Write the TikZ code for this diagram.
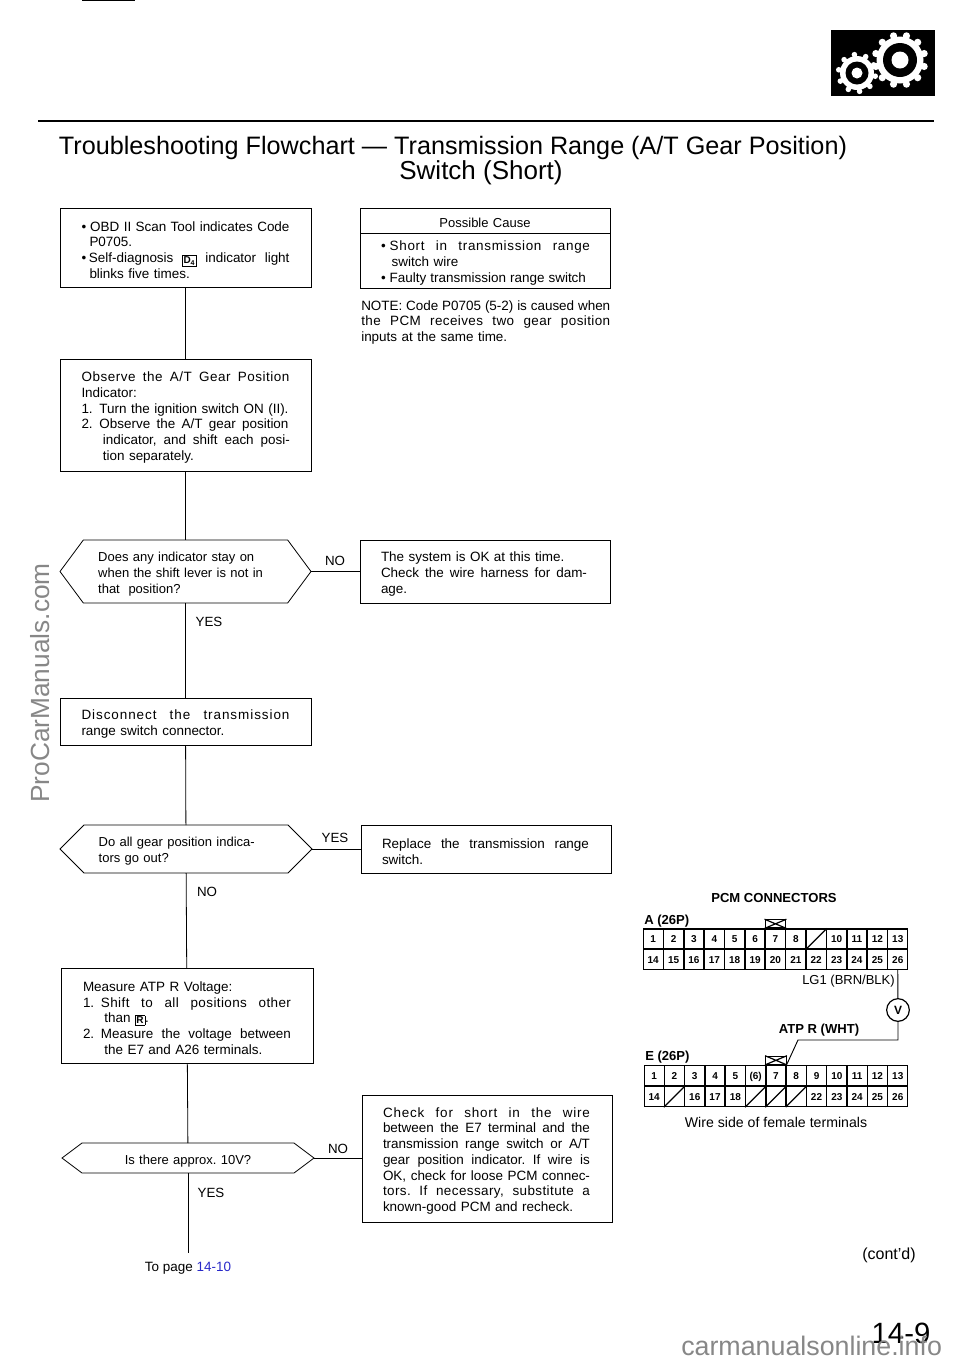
\documentclass[tikz,border=0pt]{standalone}
\usepackage{fontspec}
\setmainfont{Liberation Sans}
\usetikzlibrary{positioning}
\definecolor{markgray}{RGB}{135,135,135}
\definecolor{pagelink}{RGB}{40,40,200}
\newcommand{\jline}[2]{\makebox[\dimexpr#1pt*3/4\relax][s]{\spaceskip=.278em plus 1fil minus .1em\relax #2}}
\newcommand{\spaced}[1]{\addfontfeature{LetterSpace=#1}}
\newcommand{\keyicon}[1]{\raisebox{-0.6pt}{\setlength{\fboxsep}{0.7pt}\fbox{\fontsize{7.5}{8}\selectfont\bfseries #1}}}
\newcommand{\hexoutline}[2]{\draw [flowline] (#1.west) -- ([xshift=#2pt]#1.north west) -- ([xshift=-#2pt]#1.north east) -- (#1.east) -- ([xshift=-#2pt]#1.south east) -- ([xshift=#2pt]#1.south west) -- cycle;}
\tikzset{
    flowline/.style={line width=0.6pt},
    bodyfont/.style={font=\fontsize{10.1}{11.8}\selectfont\frenchspacing},
    flowbox/.style={draw, flowline, bodyfont, anchor=north west, outer sep=0pt, inner xsep=0pt, inner ysep=0pt, minimum width=188.25pt, text width=156pt, text height=11pt, align=left},
    rightbox/.style={flowbox, minimum width=187.5pt},
    hexbox/.style={font=\fontsize{9.75}{12}\selectfont\frenchspacing, anchor=north west, outer sep=0pt, inner xsep=0pt, inner ysep=0pt, minimum width=188.25pt, text width=131pt, text height=11pt, align=left},
    answer/.style={font=\fontsize{10}{12}\selectfont},
    pincell/.style={draw, line width=0.9pt, inner sep=0pt, minimum width=15pt, minimum height=15pt, text height=5.4pt, text depth=0pt, font=\fontsize{7.5}{7.5}\selectfont\bfseries},
    lockbox/.style={draw, line width=0.9pt, inner sep=0pt, minimum width=15.5pt, minimum height=6pt},
    pinhead/.style={font=\fontsize{9.8}{11}\selectfont\bfseries},
    watermark/.style={text=markgray, font=\fontsize{20.1}{22}\selectfont}
}
\begin{document}
\begin{tikzpicture}[x=0.75pt,y=-0.75pt]
    \useasboundingbox (0,0) rectangle (960,1365);
    % page head
    \draw [line width=0.6pt] (82,0.5) -- (135,0.5);
    \draw [line width=1.5pt] (38,121) -- (934,121);
    \fill [black] (831,30) rectangle (935,96);
    \fill [white] (900,60) circle (23.5);
    \foreach \a in {0,30,...,330} \fill [white] (900,60) ++(\a+15:25) circle (3.6);
    \fill [black] (900,60) circle (17);
    \fill [white] (900,60) circle (8.5);
    \fill [white] (857,73) circle (17);
    \foreach \a in {0,36,...,324} \fill [white] (857,73) ++(\a+10:18.5) circle (2.8);
    \fill [black] (857,73) circle (11.5);
    \fill [white] (857,73) circle (5.5);
    \node [font=\fontsize{18.9}{22}\selectfont] (title1) at (453,147.5) {Troubleshooting Flowchart --- Transmission Range (A/T Gear Position)};
    \node [font=\fontsize{19.5}{22}\selectfont] (title2) at (481,172.5) {Switch (Short)};

    % left column
    \node [flowbox, minimum height=59.25pt] (scan) at (60,208) {\jline{208}{•\kern3pt OBD II Scan Tool indicates Code}\\\hspace*{6pt}P0705.\\\jline{208}{•\kern2pt Self-diagnosis \keyicon{D\textsubscript{4}} indicator light}\\\hspace*{6pt}blinks five times.};
    \node [flowbox, minimum height=84pt] (observe) at (60,359) {\jline{208}{\spaced{4}Observe the A/T Gear Position}\\Indicator:\\\jline{207}{1.\enspace Turn the ignition switch ON (II).}\\\jline{207}{2.\enspace Observe the A/T gear position}\\\hspace*{16pt}\jline{187}{indicator, and shift each posi-}\\\hspace*{16pt}tion separately.};
    \node [hexbox, minimum height=47.25pt] (stayon) at (60,540) {Does any indicator stay on\\when the shift lever is not in\\that\ \ position?};
    \hexoutline{stayon}{17.5}
    \node [flowbox, minimum height=35.25pt] (disconnect) at (60,698) {\jline{208}{\spaced{7}Disconnect the transmission}\\range switch connector.};
    \node [hexbox, minimum height=36pt, minimum width=189pt] (goout) at (60,825) {Do all gear position indica-\\tors go out?};
    \hexoutline{goout}{18}
    \node [flowbox, minimum height=71.25pt, minimum width=189pt] (measure) at (61,968) {Measure ATP R Voltage:\\\jline{208}{1.\enspace \spaced{3}Shift to all positions other}\\\hspace*{16pt}than \keyicon{R}.\\\jline{208}{2.\enspace Measure the voltage between}\\\hspace*{16pt}the E7 and A26 terminals.};
    \node [hexbox, minimum height=22.5pt, minimum width=189pt, align=center] (approx) at (62,1143) {Is there approx. 10V?};
    \hexoutline{approx}{15}
    \coordinate (flowend) at (188,1253);

    % right column
    \node [rightbox, minimum height=18.75pt, align=center, font=\fontsize{9.75}{12}\selectfont] (causehead) at (360,208) {Possible Cause};
    \node [rightbox, minimum height=41.25pt] (causebody) at (360,233) {\jline{209}{•\kern3pt\spaced{5}Short in transmission range}\\\hspace*{8pt}switch wire\\\jline{205}{•\kern3pt Faulty transmission range switch}};
    \node [bodyfont, anchor=north west, inner sep=0pt, text width=187pt, align=left] (note) at (361,300) {\jline{249}{NOTE: Code P0705 (5-2) is caused when}\\\jline{249}{\spaced{3}the PCM receives two gear position}\\inputs at the same time.};
    \node [rightbox, minimum height=47.25pt] (okbox) at (360,540) {The system is OK at this time.\\\jline{206}{Check the wire harness for dam-}\\age.};
    \node [rightbox, minimum height=36pt] (replace) at (361,825) {\jline{207}{Replace the transmission range}\\switch.};
    \node [rightbox, minimum height=95.25pt] (check) at (362,1095) {\jline{207}{\spaced{6}Check for short in the wire}\\\jline{207}{between the E7 terminal and the}\\\jline{207}{transmission range switch or A/T}\\\jline{207}{gear position indicator. If wire is}\\\jline{207}{OK, check for loose PCM connec-}\\\jline{207}{\spaced{3}tors. If necessary, substitute a}\\known-good PCM and recheck.};

    % connectors
    \draw [flowline] (scan) -- (observe);
    \draw [flowline] (observe) -- (stayon);
    \draw [flowline] (stayon) -- (disconnect);
    \draw [flowline] (disconnect) -- (goout);
    \draw [flowline] (goout) -- (measure);
    \draw [flowline] (measure) -- (approx);
    \draw [flowline] (approx) -- (flowend);
    \draw [flowline] (stayon) -- (okbox);
    \draw [flowline] (goout) -- (replace);
    \draw [flowline] (approx.east) -- (approx.east -| check.west);

    % answers
    \node [answer] (no1) at (335,560.5) {NO};
    \node [answer] (yes1) at (209,621.5) {YES};
    \node [answer] (yes2) at (335,837.5) {YES};
    \node [answer] (no2) at (207,891.5) {NO};
    \node [answer] (no3) at (338,1148.5) {NO};
    \node [answer] (yes3) at (211,1192.5) {YES};
    \node [bodyfont] (topage) at (188,1268.5) {To page \textcolor{pagelink}{14-10}};
    \node [font=\fontsize{12}{14}\selectfont] (contd) at (889,1255) {(cont'd)};

    % connector A
    \foreach \n [count=\i] in {1,2,3,4,5,6,7,8,{},10,11,12,13}
        \node [pincell] (atop\i) at (643+\i*20.38-10.19,939) {\n};
    \foreach \n [count=\i] in {14,15,16,17,18,19,20,21,22,23,24,25,26}
        \node [pincell] (abot\i) at (643+\i*20.38-10.19,959.5) {\n};
    \draw [line width=0.9pt] (atop9.south west) -- (atop9.north east);
    \node [lockbox, above=0pt of atop7] (alock) {};
    \draw [line width=0.9pt] (alock.north west) -- (alock.south east) (alock.south west) -- (alock.north east);

    % connector E
    \foreach \n [count=\i] in {1,2,3,4,5,{(6)},7,8,9,10,11,12,13}
        \node [pincell] (etop\i) at (644+\i*20.3-10.15,1075.5) {\n};
    \foreach \n [count=\i] in {14,{},16,17,18,{},{},{},22,23,24,25,26}
        \node [pincell] (ebot\i) at (644+\i*20.3-10.15,1096.5) {\n};
    \foreach \i in {2,6,7,8} \draw [line width=0.9pt] (ebot\i.south west) -- (ebot\i.north east);
    \node [lockbox, above=0pt of etop7] (elock) {};
    \draw [line width=0.9pt] (elock.north west) -- (elock.south east) (elock.south west) -- (elock.north east);

    % wires
    \node [draw, circle, line width=0.9pt, inner sep=0pt, minimum size=17pt, font=\fontsize{9}{10}\selectfont\bfseries] (meter) at (898,1010) {V};
    \coordinate (wirebend) at (898,1040);
    \coordinate (wireleft) at (798,1040);
    \draw [line width=0.7pt] (abot13.south) -- (meter);
    \draw [line width=0.7pt] (meter) -- (wirebend) -- (wireleft) -- (etop7.north east);

    \node [pinhead] (pcmtitle) at (774,898) {PCM CONNECTORS};
    \node [pinhead, anchor=west, inner sep=0pt] (ahead) at (644,921) {A (26P)};
    \node [pinhead, anchor=west, inner sep=0pt] (ehead) at (645,1057) {E (26P)};
    \node [pinhead] (atpwire) at (819,1030) {ATP R (WHT)};
    \node [font=\fontsize{9.75}{12}\selectfont, anchor=east, inner sep=0pt] (lgwire) at (895,981) {LG1 (BRN/BLK)};
    \node [font=\fontsize{10.6}{12}\selectfont] (wireside) at (776,1122) {Wire side of female terminals};

    % page number and marks
    \node [font=\fontsize{22}{26}\selectfont] (pagenum) at (901,1333) {14-9};
    \node [watermark, rotate=90, font=\fontsize{19.7}{22}\selectfont] (markleft) at (40,683) {ProCarManuals.com};
    \node [watermark, anchor=base west, inner sep=0pt] (markfoot) at (681,1355) {carmanualsonline.info};
\end{tikzpicture}
\end{document}
